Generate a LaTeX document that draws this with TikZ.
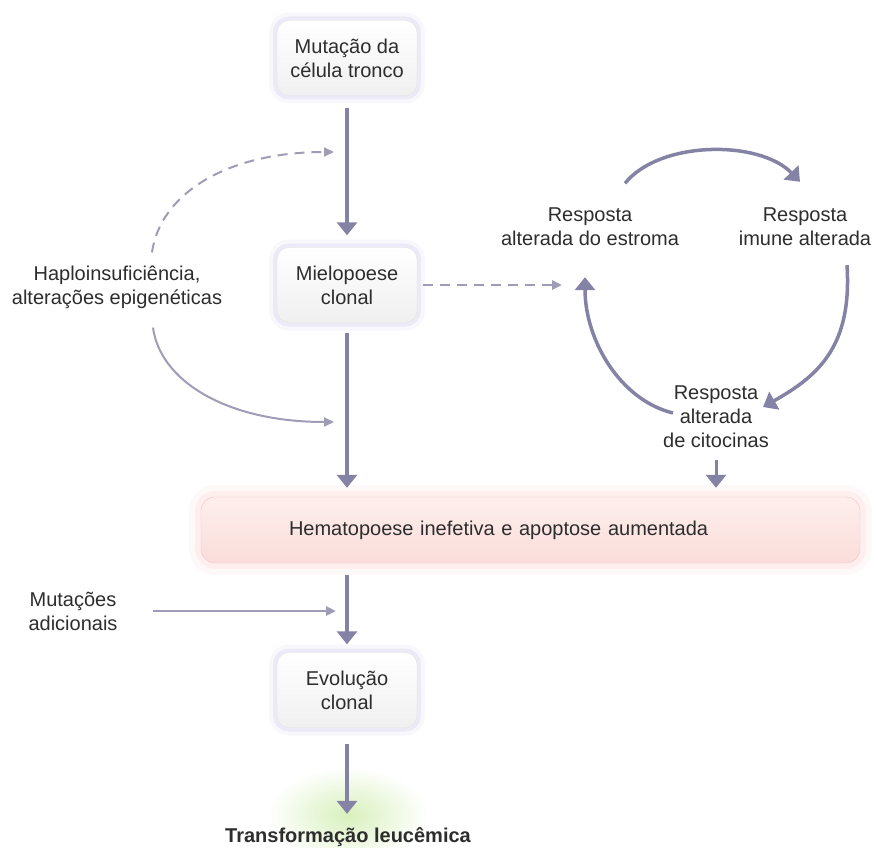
\documentclass[tikz,border=0pt]{standalone}
\usepackage{fontspec}
\setmainfont{Liberation Sans}
\usetikzlibrary{arrows.meta}

\definecolor{seta}{RGB}{133,131,165}
\definecolor{setaclara}{RGB}{158,156,182}
\definecolor{brilho}{RGB}{196,192,228}
\definecolor{texto}{RGB}{45,45,45}
\definecolor{rosa}{RGB}{250,221,218}
\definecolor{rosaclaro}{RGB}{253,238,236}
\definecolor{rosaborda}{RGB}{238,198,196}
\definecolor{rosabrilho}{RGB}{250,196,196}
\definecolor{verde}{RGB}{216,240,188}

\tikzset{
    caixa/.style={rounded corners=12pt, minimum width=140pt, minimum height=75pt, align=center,
        draw=gray!22, top color=white, bottom color=gray!12,
        preaction={draw=brilho, line width=16pt, draw opacity=0.12},
        preaction={draw=brilho, line width=8pt, draw opacity=0.25}},
    caixarosa/.style={rounded corners=14pt, text width=483pt, inner xsep=88pt, minimum height=66pt, align=left,
        draw=rosaborda, top color=rosaclaro, bottom color=rosa,
        preaction={draw=rosabrilho, line width=24pt, draw opacity=0.10},
        preaction={draw=rosabrilho, line width=12pt, draw opacity=0.20}},
    rotulo/.style={align=center, inner sep=2pt},
    seta/.style={draw=seta, line width=3.5pt, -{Triangle[width=20pt,length=13pt]}},
    setafina/.style={draw=setaclara, line width=2pt, -{Triangle[width=9pt,length=10pt]}},
    setatrac/.style={setafina, dash pattern=on 10pt off 7pt}
}

\begin{document}
\begin{tikzpicture}[x=1pt,y=-1pt, font=\fontsize{20}{24}\selectfont, text=texto]
    \useasboundingbox (0,0) rectangle (878,848);

    %Brilho verde
        \shade[inner color=verde, outer color=white] (348,815) ellipse (80 and 48);

    %Caixas
        \node[caixa] (mutacao) at (347,58) {Mutação da\\célula tronco};
        \node[caixa] (mielo) at (347,285) {Mielopoese\\clonal};
        \node[caixarosa] (hemato) at (530.5,530) {Hematopoese inefetiva e apoptose aumentada};
        \node[caixa] (evolucao) at (347,690) {Evolução\\clonal};
        \node[rotulo, font=\fontsize{20}{24}\selectfont\bfseries, anchor=base] (leuc) at (348,842) {Transformação leucêmica};

    %Textos
        \node[rotulo] (haplo) at (117,287) {Haploinsuficiência,\\alterações epigenéticas};
        \node[rotulo] (adic) at (73,611) {Mutações\\adicionais};
        \node[rotulo] (estroma) at (590,227) {Resposta\\alterada do estroma};
        \node[rotulo] (imune) at (805,227) {Resposta\\imune alterada};
        \node[rotulo] (citoc) at (716,417) {Resposta\\alterada\\de citocinas};

        \coordinate (alvo1) at (347,152);
        \coordinate (alvo2) at (347,422);

    %Setas
        \draw[seta, shorten <=12pt, shorten >=12pt] (mutacao) -- (mielo);
        \draw[seta, shorten <=10pt, shorten >=9pt] (mielo.south) -- (mielo.south |- hemato.north);
        \draw[seta, shorten <=12pt, shorten >=8pt] (evolucao.north |- hemato.south) -- (evolucao.north);
        \draw[seta, shorten <=16pt, shorten >=11pt] (evolucao.south) -- (evolucao.south |- leuc.north);
        \draw[setafina, line width=2.5pt, shorten <=33pt, shorten >=11pt] (adic.east) -- (adic.east -| evolucao.north);
        \draw[setatrac, line width=2.5pt, shorten <=6pt, shorten >=28pt] (mielo.east) -- (mielo.east -| estroma.south);
        %
        \draw[setatrac, shorten >=13pt] ([xshift=35pt,yshift=11pt]haplo.north) .. controls (160,195) and (225,152) .. (alvo1);
        \draw[setafina, shorten >=13pt] ([xshift=36pt,yshift=-17pt]haplo.south) .. controls (160,380) and (225,422) .. (alvo2);

    %Ciclo
        \draw[seta] ([xshift=35pt,yshift=22.5pt]estroma.north) .. controls (660,140) and (760,140) .. ([xshift=-5pt,yshift=24pt]imune.north);
        \draw[seta] ([xshift=42pt,yshift=-17pt]imune.south) .. controls (852,345) and (820,375) .. ([xshift=-8pt,yshift=10pt]citoc.east);
        \draw[seta] ([xshift=12pt,yshift=4pt]citoc.west) .. controls (620,400) and (585,340) .. ([xshift=-5pt,yshift=-29pt]estroma.south);
        \draw[seta, line width=3pt, shorten <=10pt, shorten >=9pt] (citoc.south) -- (citoc.south |- hemato.north);

\end{tikzpicture}
\end{document}
